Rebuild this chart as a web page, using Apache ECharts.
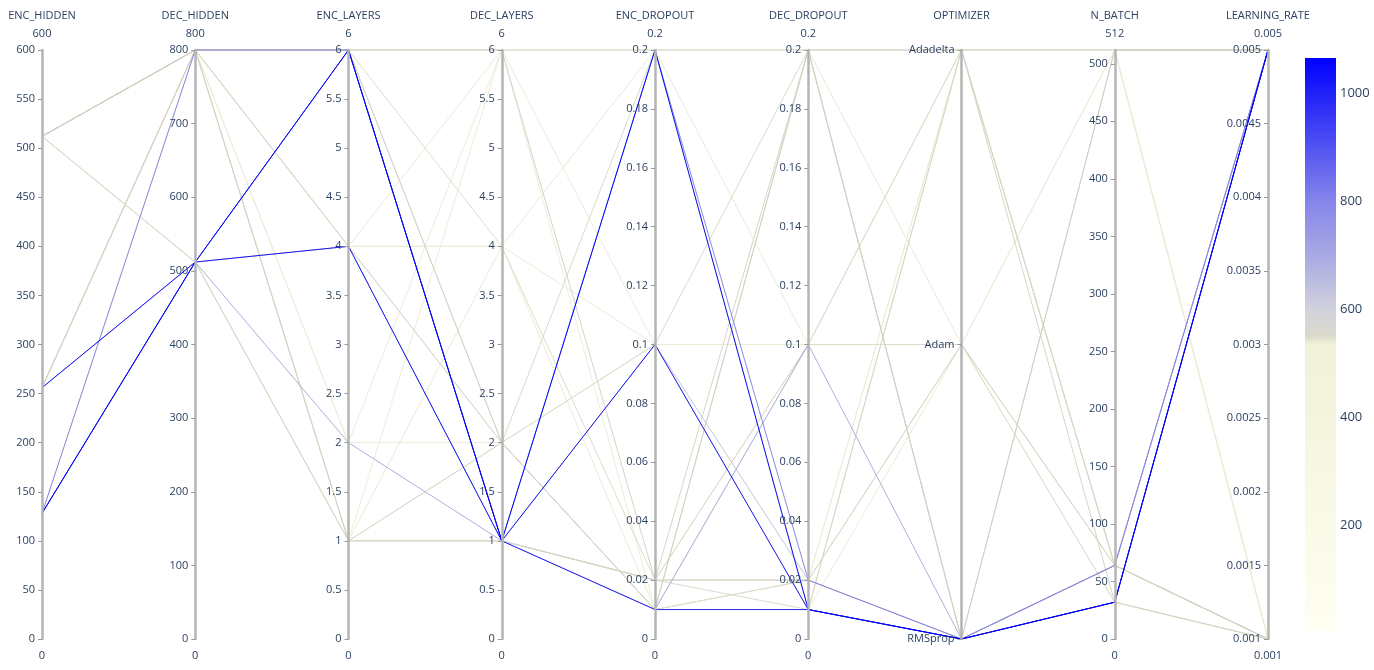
<!DOCTYPE html>
<html>
<head>
<meta charset="utf-8">
<title>parcoords</title>
<script src="https://cdn.jsdelivr.net/npm/echarts@6/dist/echarts.min.js"></script>
<style>
  html, body { margin: 0; padding: 0; background: #fff; }
  #main { width: 1374px; height: 670px; }
</style>
</head>
<body>
<div id="main"></div>
<script>
// axes
var dims = ['ENC_HIDDEN', 'DEC_HIDDEN', 'ENC_LAYERS', 'DEC_LAYERS', 'ENC_DROPOUT', 'DEC_DROPOUT', 'OPTIMIZER', 'N_BATCH', 'LEARNING_RATE'];
var axisMin = [0, 0, 0, 0, 0, 0, null, 0, 0.001];
var axisMax = [600, 800, 6, 6, 0.2, 0.2, null, 512, 0.005];
var axisStep = [50, 100, 0.5, 0.5, 0.02, 0.02, null, 50, 0.0005];
var optimizers = ['RMSprop', 'Adam', 'Adadelta'];

// one entry per run
var encHidden    = [128, 256, 128, 128, 256, 128, 512, 512, 256, 512, 256, 512, 512, 512, 256, 512, 512, 512, 256, 256, 512, 256, 512, 256, 512, 128];
var decHidden    = [512, 512, 512, 800, 512, 512, 800, 512, 800, 800, 800, 800, 512, 800, 800, 800, 800, 800, 800, 800, 800, 800, 512, 800, 800, 800];
var encLayers    = [6, 4, 6, 6, 2, 4, 6, 1, 1, 4, 6, 6, 1, 6, 4, 6, 1, 6, 4, 2, 1, 4, 1, 2, 1, 4];
var decLayers    = [1, 1, 1, 1, 1, 1, 6, 1, 2, 2, 4, 2, 1, 1, 2, 6, 1, 2, 4, 6, 6, 6, 4, 2, 2, 4];
var encDropout   = [0.2, 0.1, 0.01, 0.2, 0.01, 0.1, 0.2, 0.02, 0.01, 0.2, 0.02, 0.01, 0.02, 0.02, 0.01, 0.02, 0.02, 0.1, 0.1, 0.1, 0.01, 0.2, 0.2, 0.1, 0.01, 0.01];
var decDropout   = [0.01, 0.01, 0.01, 0.02, 0.1, 0.02, 0.2, 0.02, 0.2, 0.01, 0.1, 0.2, 0.01, 0.2, 0.02, 0.02, 0.1, 0.2, 0.1, 0.1, 0.02, 0.1, 0.2, 0.01, 0.02, 0.1];
var optimizer    = ['RMSprop', 'RMSprop', 'RMSprop', 'RMSprop', 'RMSprop', 'RMSprop', 'Adadelta', 'Adam', 'RMSprop', 'Adadelta', 'Adam', 'RMSprop', 'Adadelta', 'Adadelta', 'Adam', 'RMSprop', 'Adadelta', 'RMSprop', 'Adam', 'Adadelta', 'Adadelta', 'Adam', 'Adam', 'Adam', 'Adadelta', 'Adadelta'];
var nBatch       = [32, 32, 32, 64, 64, 64, 512, 64, 512, 64, 32, 64, 64, 32, 64, 512, 64, 64, 512, 512, 512, 64, 32, 512, 64, 512];
var learningRate = [0.005, 0.005, 0.005, 0.005, 0.005, 0.005, 0.005, 0.001, 0.005, 0.001, 0.001, 0.001, 0.001, 0.001, 0.001, 0.005, 0.001, 0.001, 0.001, 0.005, 0.001, 0.001, 0.001, 0.001, 0.001, 0.005];
var score        = [1060, 1040, 1010, 790, 680, 615, 548, 545, 550, 546, 544, 549, 545, 550, 545, 552, 544, 546, 430, 380, 350, 450, 470, 400, 330, 420];

var cmin = 5, cmax = 1065;
var colorbarTicks = [200, 400, 600, 800, 1000];
var colorStops = [[0, '#fffff2'], [0.5, '#f1f1d8'], [0.515, '#dadacb'], [0.56, '#d2d2dc'], [0.65, '#ababe4'], [0.75, '#8585ea'], [1, '#0000ff']];

function hex2rgb(h) {
  return [parseInt(h.substr(1, 2), 16), parseInt(h.substr(3, 2), 16), parseInt(h.substr(5, 2), 16)];
}
// same scale as the colorbar, a touch darker so thin lines stay visible
function scoreColor(v) {
  var t = (v - cmin) / (cmax - cmin);
  t = Math.max(0, Math.min(1, t));
  for (var i = 1; i < colorStops.length; i++) {
    if (t <= colorStops[i][0]) {
      var a = colorStops[i - 1], b = colorStops[i];
      var f = (t - a[0]) / (b[0] - a[0]);
      var ca = hex2rgb(a[1]), cb = hex2rgb(b[1]);
      var c = ca.map(function (x, k) { return Math.round((x + (cb[k] - x) * f) * 0.96); });
      return 'rgb(' + c.join(',') + ')';
    }
  }
  return colorStops[colorStops.length - 1][1];
}

var font = '"Open Sans", "Noto Sans", sans-serif';
var txt = '#2a3f5f';
var L = 42, R = 106, T = 50, B = 31, W = 1374, H = 670;
var step = (W - L - R) / (dims.length - 1);

// lines, low scores first so the high ones sit on top
var rows = [];
for (var i = 0; i < score.length; i++) {
  rows.push({
    value: [encHidden[i], decHidden[i], encLayers[i], decLayers[i], encDropout[i], decDropout[i], optimizer[i], nBatch[i], learningRate[i]],
    s: score[i]
  });
}
rows.sort(function (a, b) { return a.s - b.s; });
var lines = rows.map(function (r) {
  return { value: r.value, lineStyle: { color: scoreColor(r.s) } };
});

var axes = dims.map(function (d, i) {
  var isCat = i === 6;
  var top = isCat ? ' ' : String(axisMax[i]);
  var ax = {
    dim: i,
    name: '{t|' + d + '}\n{r|' + top + '}',
    nameLocation: 'end',
    nameGap: 7,
    nameTextStyle: {
      rich: {
        t: { fontSize: 11, color: txt, fontFamily: font, lineHeight: 18 },
        r: { fontSize: 11, color: txt, fontFamily: font, lineHeight: 18 }
      }
    },
    axisLine: { lineStyle: { color: '#b4b4b4', width: 2.5 } },
    // parallel axes put ticks/labels on the right; flip them to the left
    axisTick: { length: -4, lineStyle: { color: '#9a9a9a' } },
    axisLabel: {
      fontSize: 11, color: txt, fontFamily: font, margin: -7, align: 'right',
      showMaxLabel: i !== 7,
      formatter: function (v) { return isCat ? v : String(+(+v).toFixed(6)); }
    }
  };
  if (isCat) {
    ax.type = 'category';
    ax.data = optimizers;
    ax.boundaryGap = false;
  } else {
    ax.type = 'value';
    ax.min = axisMin[i];
    ax.max = axisMax[i];
    ax.interval = axisStep[i];
  }
  return ax;
});

// bottom range labels and colorbar
var graphics = [];
dims.forEach(function (d, i) {
  if (i === 6) return;
  graphics.push({
    type: 'text', x: L + i * step, y: H - 14,
    style: { text: String(axisMin[i]), fill: txt, font: '11px ' + font, textAlign: 'center', textVerticalAlign: 'middle' }
  });
});
var cbX = 1305, cbTop = 58, cbH = 573, cbW = 31;
graphics.push({
  type: 'rect',
  shape: { x: cbX, y: cbTop, width: cbW, height: cbH },
  style: {
    fill: new echarts.graphic.LinearGradient(0, 1, 0, 0, colorStops.map(function (s) {
      return { offset: s[0], color: s[1] };
    }))
  }
});
colorbarTicks.forEach(function (v) {
  var y = cbTop + cbH - (v - cmin) / (cmax - cmin) * cbH;
  graphics.push({
    type: 'text', x: cbX + cbW + 4, y: y,
    style: { text: String(v), fill: txt, font: '13px ' + font, textVerticalAlign: 'middle' }
  });
});

var myChart = echarts.init(document.getElementById('main'));
var option = {
  animation: false,
  backgroundColor: '#fff',
  parallel: {
    left: L, right: R, top: T, bottom: B,
    layout: 'horizontal',
    parallelAxisDefault: {}
  },
  parallelAxis: axes,
  series: [{
    type: 'parallel',
    lineStyle: { width: 1, opacity: 0.95 },
    data: lines
  }],
  graphic: graphics
};
myChart.setOption(option);
</script>
</body>
</html>
